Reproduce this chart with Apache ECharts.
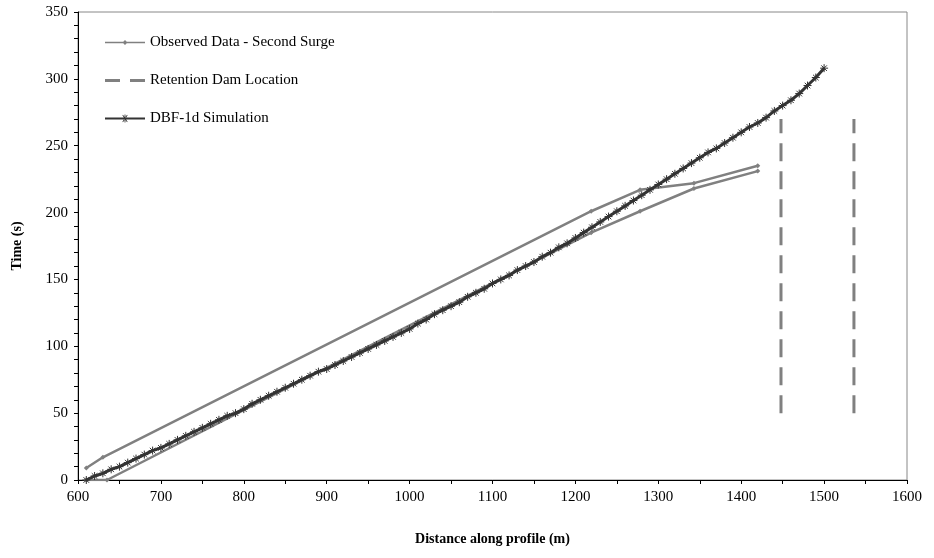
<!DOCTYPE html>
<html>
<head>
<meta charset="utf-8">
<script src="https://cdn.jsdelivr.net/npm/echarts@6/dist/echarts.min.js"></script>
<style>
  html, body { margin: 0; padding: 0; background: #fff; }
  #chart { width: 934px; height: 558px; }
</style>
</head>
<body>
<div id="chart"></div>
<script>
// observed data, drawn as two branches of one series
var obsUpperX = [610, 630, 1219, 1278, 1343, 1420];
var obsUpperY = [9, 17, 201, 217, 222, 235];
var obsLowerX = [610, 635, 1219, 1278, 1343, 1420];
var obsLowerY = [0, 0, 185, 201, 218, 231];

// retention dam positions
var damX = [1448, 1536];
var damY = [50, 270];

// DBF-1d simulation
var simX = [610, 620, 630, 640, 650, 660, 670, 680, 690, 700,
  710, 720, 730, 740, 750, 760, 770, 780, 790, 800,
  810, 820, 830, 840, 850, 860, 870, 880, 890, 900,
  910, 920, 930, 940, 950, 960, 970, 980, 990, 1000,
  1010, 1020, 1030, 1040, 1050, 1060, 1070, 1080, 1090, 1100,
  1110, 1120, 1130, 1140, 1150, 1160, 1170, 1180, 1190, 1200,
  1210, 1220, 1230, 1240, 1250, 1260, 1270, 1280, 1290, 1300,
  1310, 1320, 1330, 1340, 1350, 1360, 1370, 1380, 1390, 1400,
  1410, 1420, 1430, 1440, 1450, 1460, 1470, 1480, 1490, 1500];
var simY = [0, 3, 5, 8, 10, 13, 16, 19, 22, 24,
  27, 30, 33, 36, 39, 42, 45, 48, 50, 53,
  57, 60, 63, 66, 69, 72, 75, 78, 81, 83,
  86, 89, 92, 95, 98, 101, 104, 107, 110, 113,
  117, 120, 124, 127, 130, 133, 137, 140, 143, 147,
  150, 153, 157, 160, 163, 167, 170, 174, 177, 181,
  185, 189, 193, 197, 201, 205, 209, 213, 217, 221,
  225, 229, 233, 237, 241, 245, 248, 252, 256, 260,
  264, 267, 271, 276, 280, 284, 289, 295, 301, 308];

function pairs(xs, ys) {
  return xs.map(function (x, i) { return [x, ys[i]]; });
}

var asterisk = "path://M0,5L10,5M5,0L5,10M1.5,1.5L8.5,8.5M1.5,8.5L8.5,1.5";
var font = "Liberation Serif";
var gray = "#808080";
var dark = "#333333";

// legend icons drawn in a 40x10 box
var iconObs = "path://M0,4.2h40v1.6h-40zM20,2.5l2.5,2.5l-2.5,2.5l-2.5,-2.5z";
var iconDam = "path://M0,3.5h15v3h-15zM25,3.5h15v3h-15z";
var iconSim = "path://M0,4h40v2h-40zM19.6,1h0.8v8h-0.8zM16.8,4.6h6.4v0.8h-6.4z" +
  "M17.4,1.8l0.6,-0.5l4.6,6.9l-0.6,0.5zM17.4,8.2l0.6,0.5l4.6,-6.9l-0.6,-0.5z";

var obsStyle = {
  name: "Observed Data - Second Surge",
  type: "line",
  symbol: "diamond",
  symbolSize: 5,
  showAllSymbol: true,
  lineStyle: { color: gray, width: 2.5 },
  itemStyle: { color: gray },
  z: 2
};

function damSeries(x) {
  return {
    name: "Retention Dam Location",
    type: "line",
    symbol: "none",
    lineStyle: { color: gray, width: 3, type: [18, 10] },
    itemStyle: { color: gray },
    data: [[x, damY[0]], [x, damY[1]]],
    z: 1
  };
}

var chart = echarts.init(document.getElementById("chart"));
chart.setOption({
  animation: false,
  grid: {
    left: 78, right: 27, top: 12, bottom: 78,
    show: true, borderColor: "#888", borderWidth: 1
  },
  legend: {
    orient: "vertical",
    left: 100,
    top: 30,
    itemWidth: 40,
    itemHeight: 10,
    itemGap: 23,
    textStyle: { fontFamily: font, fontSize: 15, color: "#000" },
    data: [
      { name: "Observed Data - Second Surge", icon: iconObs, itemStyle: { color: gray, borderWidth: 0 } },
      { name: "Retention Dam Location", icon: iconDam, itemStyle: { color: gray, borderWidth: 0 } },
      { name: "DBF-1d Simulation", icon: iconSim, itemStyle: { color: dark, borderWidth: 0 } }
    ]
  },
  xAxis: {
    type: "value",
    min: 600, max: 1600, interval: 100,
    name: "Distance along profile (m)",
    nameLocation: "middle",
    nameGap: 52,
    nameTextStyle: { fontFamily: font, fontSize: 14, fontWeight: "bold", color: "#000" },
    axisLine: { lineStyle: { color: "#000", width: 1 } },
    axisTick: { inside: false, length: 4, lineStyle: { color: "#000" } },
    minorTick: { show: true, splitNumber: 2, length: 4, lineStyle: { color: "#000" } },
    axisLabel: {
      fontFamily: font, fontSize: 15, color: "#000", margin: 10,
      formatter: function (v) { return String(v); }
    },
    splitLine: { show: false }
  },
  yAxis: {
    type: "value",
    min: 0, max: 350, interval: 50,
    name: "Time (s)",
    nameLocation: "middle",
    nameGap: 54,
    nameTextStyle: { fontFamily: font, fontSize: 14, fontWeight: "bold", color: "#000" },
    axisLine: { show: true, lineStyle: { color: "#000", width: 1 } },
    axisTick: { show: true, length: 4, lineStyle: { color: "#000" } },
    minorTick: { show: true, splitNumber: 5, length: 4, lineStyle: { color: "#000" } },
    axisLabel: { fontFamily: font, fontSize: 15, color: "#000", margin: 10 },
    splitLine: { show: false }
  },
  series: [
    Object.assign({}, obsStyle, { data: pairs(obsUpperX, obsUpperY) }),
    Object.assign({}, obsStyle, { data: pairs(obsLowerX, obsLowerY) }),
    damSeries(damX[0]),
    damSeries(damX[1]),
    {
      name: "DBF-1d Simulation",
      type: "line",
      symbol: asterisk,
      symbolSize: 8,
      showAllSymbol: true,
      lineStyle: { color: dark, width: 3 },
      itemStyle: { color: dark, borderColor: dark, borderWidth: 1 },
      data: pairs(simX, simY),
      z: 3
    }
  ]
});
</script>
</body>
</html>
